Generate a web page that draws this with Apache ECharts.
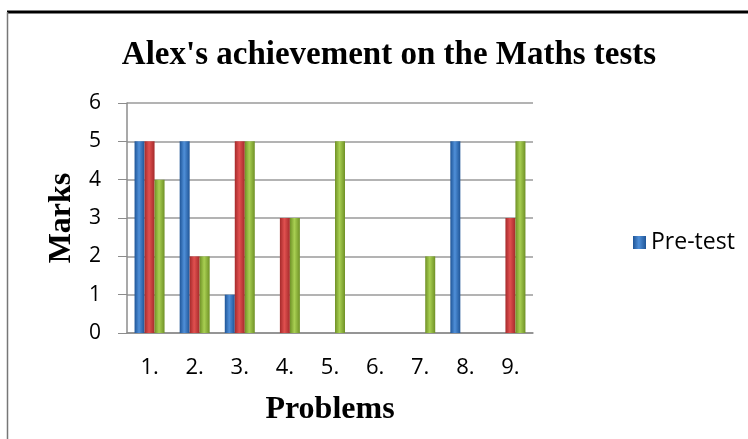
<!DOCTYPE html>
<html><head><meta charset="utf-8">
<script src="https://cdn.jsdelivr.net/npm/echarts@6/dist/echarts.min.js"></script>
<style>html,body{margin:0;padding:0;background:#fff}#c{width:748px;height:439px}</style>
</head><body><div id="c"></div>
<script>
const categories = ['1.', '2.', '3.', '4.', '5.', '6.', '7.', '8.', '9.'];
const preTest = [5, 5, 1, 0, 0, 0, 0, 5, 0];
const midTest = [5, 2, 5, 3, 0, 0, 0, 0, 3];
const postTest = [4, 2, 5, 3, 5, 0, 2, 0, 5];
const yTicks = [0, 1, 2, 3, 4, 5, 6];

function grad(edge, mid) {
  return new echarts.graphic.LinearGradient(0, 0, 1, 0, [
    {offset: 0, color: edge}, {offset: 0.45, color: mid}, {offset: 1, color: edge}
  ]);
}
const chart = echarts.init(document.getElementById('c'), null, {renderer: 'canvas'});
const sans = 'Open Sans';
const serif = 'Liberation Serif';
function mk(name, data, edge, mid) {
  return {name, type: 'bar', data, barWidth: 10, barGap: '0%',
    itemStyle: {color: grad(edge, mid)}, emphasis: {disabled: true}};
}
chart.setOption({
  animation: false,
  title: {text: "Alex's achievement on the Maths tests", left: 384, textAlign: 'center', top: 34,
    textStyle: {fontFamily: serif, fontWeight: 'bold', fontSize: 33, color: '#000'}},
  legend: {data: ['Pre-test'], left: 628, top: 226, itemWidth: 13, itemHeight: 13, icon: 'rect',
    textStyle: {fontFamily: sans, fontSize: 23, color: '#000'}, itemGap: 6},
  grid: {left: 127, right: 215, top: 103, bottom: 106},
  xAxis: {type: 'category', data: categories,
    name: 'Problems', nameLocation: 'middle', nameGap: 61,
    nameTextStyle: {fontFamily: serif, fontWeight: 'bold', fontSize: 32, color: '#000'},
    axisLine: {lineStyle: {color: '#8c8c8c', width: 1.5}},
    axisTick: {show: false},
    axisLabel: {fontFamily: sans, fontSize: 22, color: '#000', margin: 24}},
  yAxis: {type: 'value', min: 0, max: 6, interval: 1,
    name: 'Marks', nameLocation: 'middle', nameGap: 49,
    nameTextStyle: {fontFamily: serif, fontWeight: 'bold', fontSize: 32, color: '#000'},
    axisLine: {show: true, lineStyle: {color: '#8c8c8c', width: 1.5}},
    axisTick: {show: true, length: 9, lineStyle: {color: '#8c8c8c'}},
    splitLine: {lineStyle: {color: '#9a9a9a', width: 1.5}},
    axisLabel: {fontFamily: sans, fontSize: 21, color: '#000', margin: 26,
      formatter: v => yTicks.includes(v) ? String(v) : ''}},
  series: [
    mk('Pre-test', preTest, '#1f5597', '#4f8fd8'),
    mk('Mid-test', midTest, '#a52a2b', '#e0504f'),
    mk('Post-test', postTest, '#6f9126', '#a8cf52')
  ],
  graphic: [
    {type: 'line', shape: {x1: 7, y1: 12, x2: 748, y2: 12}, style: {stroke: '#000', lineWidth: 3}},
    {type: 'line', shape: {x1: 7.5, y1: 12, x2: 7.5, y2: 439}, style: {stroke: '#777', lineWidth: 1.5}}
  ]
});
</script></body></html>
